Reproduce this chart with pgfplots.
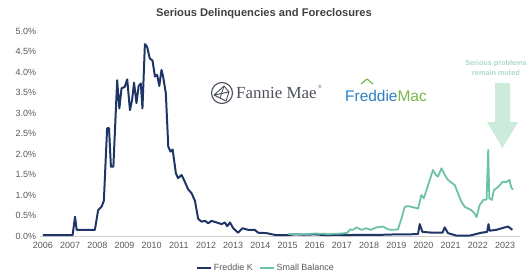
\documentclass[border=0pt]{standalone}
\usepackage{pgfplots}
\pgfplotsset{compat=1.18}
\usepackage{fontspec}
\setmainfont{Liberation Sans}
\newfontfamily\fmserif{Liberation Serif}
\definecolor{navy}{HTML}{1F3566}
\definecolor{tealc}{HTML}{6CC1A9}
\definecolor{txtgray}{HTML}{595959}
\definecolor{titlegray}{HTML}{404040}
\definecolor{mint}{HTML}{C6E9D6}
\definecolor{mintt}{HTML}{A9DCC2}
\definecolor{fmblue}{HTML}{2C7FC4}
\definecolor{fmgreen}{HTML}{7AB648}
\definecolor{fmgray}{HTML}{4B505C}
\begin{document}
\begin{tikzpicture}[x=1bp,y=1bp]
\useasboundingbox (0,0) rectangle (530,277);
\node[font=\bfseries\fontsize{11.2}{13}\selectfont, text=titlegray] at (264,263) {Serious Delinquencies and Foreclosures};
\begin{axis}[
  at={(39.7bp,41bp)}, anchor=south west,
  scale only axis, width=480.3bp, height=205bp,
  xmin=2005.88, xmax=2023.55, ymin=0, ymax=5,
  clip=false,
  axis x line*=bottom, axis y line*=left,
  x axis line style={draw=black!18, line width=0.8pt, -},
  y axis line style={draw=none},
  xtick={2006,2007,...,2023}, ytick={0,0.5,...,5},
  major tick length=0pt,
  /pgf/number format/assume math mode=true,
  /pgf/number format/1000 sep={},
  xticklabel style={font=\fontsize{9}{10}\selectfont, text=txtgray, yshift=-2.5pt},
  yticklabel style={font=\fontsize{9}{10}\selectfont, text=txtgray, anchor=east, xshift=0pt},
  yticklabel={\pgfmathprintnumber[fixed,fixed zerofill,precision=1]{\tick}\%},
  legend style={at={(0.471,-0.156)}, anchor=center, draw=none, fill=none,
    font=\fontsize{9}{10}\selectfont, text=txtgray, legend columns=2,
    /tikz/every even column/.append style={column sep=4pt}, inner sep=0pt, row sep=0pt},
  legend cell align=left,
  legend image code/.code={\draw[#1] (0bp,0bp) -- (14bp,0bp);},
]
\addplot[navy, line width=2pt, line join=round] coordinates {
(2006.00,0.02) (2007.09,0.02) (2007.18,0.47) (2007.24,0.15) (2007.91,0.15)
(2008.03,0.63) (2008.16,0.72) (2008.24,0.86) (2008.36,2.63) (2008.43,2.63)
(2008.50,1.69) (2008.59,1.69) (2008.73,3.80) (2008.81,3.11) (2008.89,3.60)
(2009.01,3.64) (2009.10,3.82) (2009.20,3.07) (2009.28,3.32) (2009.35,3.74)
(2009.44,3.24) (2009.52,3.66) (2009.60,3.72) (2009.66,3.11) (2009.75,4.68)
(2009.83,4.62) (2009.93,4.33) (2010.03,4.28) (2010.12,3.89) (2010.20,3.93)
(2010.28,3.66) (2010.36,4.05) (2010.42,3.89) (2010.52,3.48) (2010.61,2.18)
(2010.69,2.06) (2010.77,2.11) (2010.89,1.53) (2010.97,1.41) (2011.10,1.49)
(2011.22,1.32) (2011.34,1.14) (2011.47,1.04) (2011.59,0.86) (2011.71,0.42)
(2011.83,0.35) (2011.96,0.37) (2012.08,0.31) (2012.20,0.37) (2012.39,0.33)
(2012.57,0.29) (2012.69,0.33) (2012.78,0.24) (2012.88,0.33) (2013.00,0.19)
(2013.18,0.08) (2013.34,0.19) (2013.55,0.15) (2013.79,0.15) (2013.92,0.08)
(2014.22,0.07) (2014.59,0.02) (2014.96,0.02) (2015.30,0.04) (2015.60,0.03)
(2016.00,0.04) (2016.40,0.02) (2016.80,0.03) (2017.20,0.02) (2017.60,0.03)
(2018.00,0.03) (2018.50,0.03) (2019.00,0.04) (2019.50,0.04) (2019.80,0.05)
(2019.86,0.29) (2019.96,0.10) (2020.35,0.08) (2020.70,0.08) (2020.78,0.21)
(2020.90,0.07) (2021.21,0.01) (2021.70,0.01) (2022.13,0.08) (2022.34,0.10)
(2022.39,0.29) (2022.43,0.13) (2022.68,0.15) (2022.99,0.21) (2023.11,0.23)
(2023.27,0.15)
};
\addlegendentry{Freddie K}
\addplot[tealc, line width=1.8pt, line join=round] coordinates {
(2015.00,0.05) (2015.50,0.04) (2016.00,0.06) (2016.50,0.05) (2017.00,0.06)
(2017.20,0.08) (2017.29,0.16) (2017.41,0.15) (2017.53,0.21) (2017.72,0.15)
(2017.90,0.19) (2018.05,0.15) (2018.27,0.21) (2018.51,0.23) (2018.70,0.16)
(2018.88,0.15) (2019.06,0.16) (2019.19,0.43) (2019.31,0.71) (2019.43,0.73)
(2019.62,0.70) (2019.80,0.67) (2019.92,1.00) (2020.01,0.92) (2020.13,1.16)
(2020.23,1.37) (2020.35,1.61) (2020.45,1.49) (2020.53,1.45) (2020.66,1.65)
(2020.78,1.49) (2020.90,1.37) (2021.03,1.30) (2021.15,1.24) (2021.27,1.04)
(2021.39,0.84) (2021.52,0.71) (2021.64,0.67) (2021.76,0.63) (2021.88,0.55)
(2021.95,0.46) (2022.07,0.76) (2022.20,0.88) (2022.32,0.89) (2022.38,2.10)
(2022.42,0.92) (2022.51,0.88) (2022.59,1.12) (2022.75,1.20) (2022.91,1.32)
(2023.06,1.32) (2023.16,1.37) (2023.24,1.16) (2023.30,1.14)
};
\addlegendentry{Small Balance}
\end{axis}
% Fannie Mae logo
\draw[fmgray, line width=1.1pt] (222,184) circle (10.5);
\draw[fmgray, line width=0.9pt, line join=round] (214,182) -- (224,191) -- (229,185) -- (226,176) -- (214,182) -- (229,185);
\draw[fmgray, line width=0.9pt] (224,191) -- (220,179);
\node[anchor=west, text=fmgray, font=\fmserif\fontsize{17}{20}\selectfont, inner sep=0pt] at (236,184) {Fannie Mae};
\node[anchor=west, text=fmgray, font=\fmserif\fontsize{5}{6}\selectfont, inner sep=0pt] at (318,190) {\textregistered};
% Freddie Mac logo
\node[anchor=west, inner sep=0pt, font=\fontsize{15.5}{18}\selectfont] at (345,181) {\textcolor{fmblue}{Freddie}\textcolor{fmgreen}{Mac}};
\draw[fmgreen, line width=1.2pt, line join=round] (361,193) -- (367,198) -- (373,193);
% annotation
\node[align=center, text=mintt, font=\bfseries\fontsize{7.3}{9.5}\selectfont, inner sep=1pt] at (496,209) {Serious problems\\remain muted};
\fill[mint, opacity=0.9] (495,194) -- (510,194) -- (510,155) -- (518,155) -- (502.5,129) -- (487,155) -- (495,155) -- cycle;
\end{tikzpicture}
\end{document}
